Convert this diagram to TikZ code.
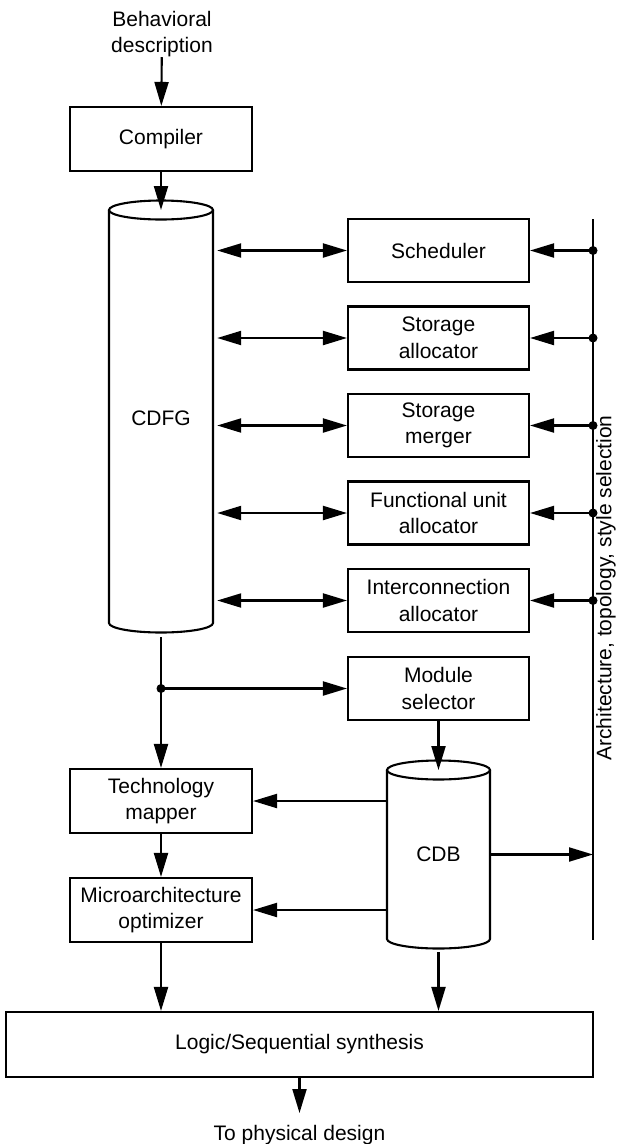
\documentclass[tikz,border=0pt]{standalone}
\usepackage{fontspec}
\setmainfont{Liberation Sans}
\usetikzlibrary{arrows.meta}
\begin{document}
\begin{tikzpicture}[x=1pt,y=-1pt,
  every node/.style={font=\fontsize{21}{26.5}\selectfont},
  lw/.style={line width=2.1pt},
  box/.style={draw, lw, inner sep=0pt, align=center, minimum width=182pt, minimum height=64pt},
  rbox/.style={box, minimum width=181pt, minimum height=63pt},
  arr/.style={lw, -{Triangle[length=24pt,width=14pt]}},
  darr/.style={lw, {Triangle[length=24pt,width=14pt]}-{Triangle[length=24pt,width=14pt]}, shorten <=4pt},
  dot/.style={circle, fill, inner sep=0pt, minimum size=9pt}
]
\useasboundingbox (0,0) rectangle (619,1144);

% input and compiler
\node[align=center, inner sep=0pt] (beh) at (162,34) {Behavioral\\description};
\node[box] (comp) at (161,139) {Compiler};

% CDFG store (cylinder)
\node[inner sep=0pt, minimum width=104pt, minimum height=413pt] (cdfg) at (161,416.5) {};
\node (cdfgtxt) at (161,418) {CDFG};
\coordinate (cdfgtop) at (161,210);
\coordinate (cdfgout) at (161,637);
\draw[lw] (109,210) -- (109,623) arc[start angle=180, end angle=0, x radius=52, y radius=9.5] -- (213,210);
\draw[lw] (cdfgtop) ellipse[x radius=52, y radius=9.5];

% synthesis tasks
\node[rbox] (sched) at (438.5,250.5) {Scheduler};
\node[rbox] (salloc) at (438.5,338) {Storage\\allocator};
\node[rbox] (smerge) at (438.5,425.5) {Storage\\merger};
\node[rbox] (fualloc) at (438.5,513) {Functional unit\\allocator};
\node[rbox] (ialloc) at (438.5,600.5) {Interconnection\\allocator};
\node[rbox] (modsel) at (438.5,688.5) {Module\\selector};

% selection bus
\coordinate (bus) at (593,219);
\coordinate (busend) at (593,940);
\draw[lw] (bus) -- (busend);
\node[rotate=90] (bustxt) at (606,588) {Architecture, topology, style selection};

\foreach \b in {sched,salloc,smerge,fualloc,ialloc}{
  \draw[darr] (cdfg.east |- \b.west) -- (\b.west);
  \draw[arr] (bus |- \b.east) -- (\b.east);
  \node[dot] at (bus |- \b.east) {};
}

% CDB store (cylinder)
\node[inner sep=0pt, minimum width=103pt, minimum height=169pt] (cdb) at (438.5,854.5) {};
\node (cdbtxt) at (438.5,854) {CDB};
\coordinate (cdbtop) at (438.5,770);
\coordinate (cdbout) at (438.5,952);
\draw[lw] (387,770) -- (387,939) arc[start angle=180, end angle=0, x radius=51.5, y radius=9.5] -- (490,770);
\draw[lw] (cdbtop) ellipse[x radius=51.5, y radius=9.5];

% mapping and optimization
\node[box] (tmap) at (161,801) {Technology\\mapper};
\node[box] (mopt) at (161,910) {Microarchitecture\\optimizer};
\node[draw, lw, inner sep=0pt, minimum width=587pt, minimum height=65pt] (logic) at (299.5,1044.5) {Logic/Sequential synthesis};
\coordinate (phys) at (299.5,1113);
\node[anchor=base, inner sep=0pt] (phystxt) at (299.5,1140) {To physical design};

% connections
\coordinate (split) at (cdfgout |- modsel.west);
\draw[arr] (beh) -- (comp);
\draw[arr] (comp.south) -- (cdfgtop);
\draw[arr] (cdfgout) -- (tmap.north);
\draw[arr] (split) -- (modsel.west);
\node[dot] at (split) {};
\draw[arr] (modsel.south) -- (cdbtop);
\draw[arr] (cdb.west |- tmap.east) -- (tmap.east);
\draw[arr] (cdb.west |- mopt.east) -- (mopt.east);
\draw[arr] (cdb.east) -- (cdb.east -| bus);
\draw[arr] (tmap.south) -- (mopt.north);
\draw[arr] (mopt.south) -- (mopt.south |- logic.north);
\draw[arr] (cdbout) -- (cdbout |- logic.north);
\draw[arr] (logic.south) -- (phys);
\end{tikzpicture}
\end{document}
